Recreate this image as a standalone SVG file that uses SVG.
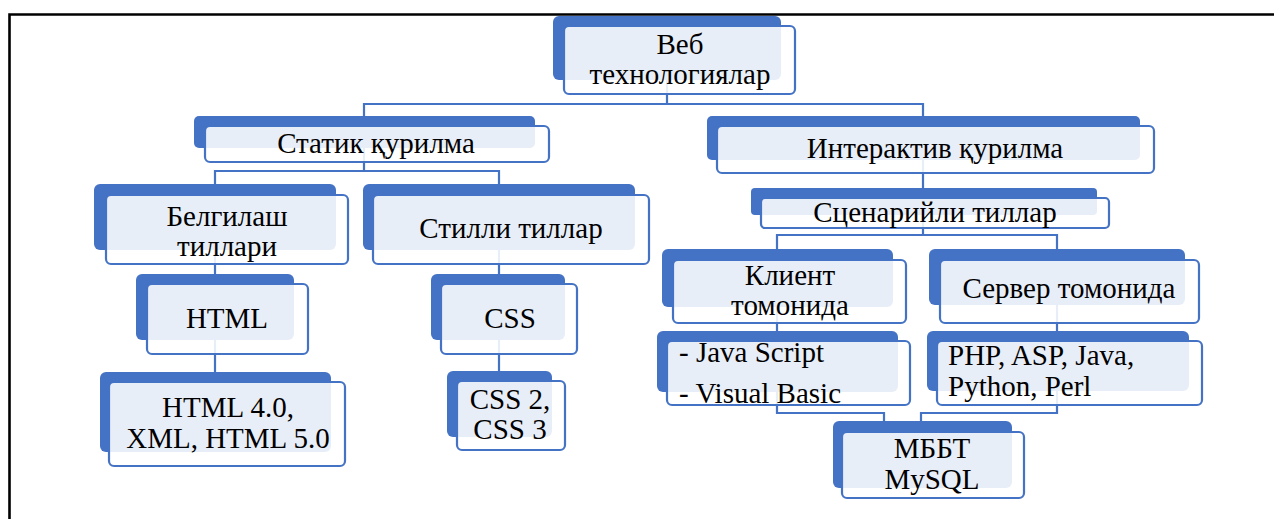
<svg xmlns="http://www.w3.org/2000/svg" width="1274" height="519" viewBox="0 0 1274 519">
<style>
.bk{fill:#4472C4}
.fr{fill:#ffffff;fill-opacity:0.88;stroke:#4472C4;stroke-width:2.2}
.cn{fill:none;stroke:#4472C4;stroke-width:2.2}
text{font-family:"Liberation Serif","Times New Roman",serif;font-size:29px;fill:#000}
.c{text-anchor:middle}
</style>
<rect x="0" y="0" width="1274" height="519" fill="#fff"/>
<path d="M9.5,519 V14.5 H1274" fill="none" stroke="#000" stroke-width="2.6"/>
<g id="connectors">
<path class="cn" d="M667,60 V104 M364,125 V104 H923 V125"/>
<path class="cn" d="M364,140 V171 M215,195 V171 H499 V195"/>
<path class="cn" d="M215,230 V290 M215,320 V385"/>
<path class="cn" d="M499,230 V290 M499,320 V385"/>
<path class="cn" d="M923,140 V200"/>
<path class="cn" d="M923,210 V235 M777,260 V235 H1057 V260"/>
<path class="cn" d="M777,290 V345 M1057,290 V345"/>
<path class="cn" d="M777,360 V413 H884 V432"/>
<path class="cn" d="M1057,360 V413 H921 V432"/>
</g>
<g id="n-veb">
<rect class="bk" x="553" y="16" width="228" height="64" rx="6"/>
<rect class="fr" x="564" y="26" width="231" height="68" rx="5"/>
<text class="c" x="680" y="54">Веб</text>
<text class="c" x="680" y="84">технологиялар</text>
</g>
<g id="n-statik">
<rect class="bk" x="194" y="116" width="341" height="32" rx="5"/>
<rect class="fr" x="205" y="126" width="344" height="36" rx="5"/>
<text class="c" x="376" y="153">Статик қурилма</text>
</g>
<g id="n-interaktiv">
<rect class="bk" x="707" y="116" width="433" height="44" rx="5"/>
<rect class="fr" x="717" y="126" width="437" height="47" rx="5"/>
<text class="c" x="935" y="158">Интерактив қурилма</text>
</g>
<g id="n-belgilash">
<rect class="bk" x="94" y="184" width="242" height="66" rx="6"/>
<rect class="fr" x="106" y="195" width="242" height="69" rx="5"/>
<text class="c" x="227" y="226">Белгилаш</text>
<text class="c" x="227" y="256">тиллари</text>
</g>
<g id="n-stilli">
<rect class="bk" x="363" y="184" width="272" height="66" rx="6"/>
<rect class="fr" x="373" y="195" width="276" height="69" rx="5"/>
<text class="c" x="511" y="238">Стилли тиллар</text>
</g>
<g id="n-html">
<rect class="bk" x="136" y="274" width="158" height="66" rx="6"/>
<rect class="fr" x="147" y="284" width="161" height="70" rx="5"/>
<text class="c" x="227" y="328">HTML</text>
</g>
<g id="n-css">
<rect class="bk" x="431" y="274" width="134" height="66" rx="6"/>
<rect class="fr" x="441" y="284" width="136" height="70" rx="5"/>
<text class="c" x="510" y="328">CSS</text>
</g>
<g id="n-html4">
<rect class="bk" x="100" y="372" width="231" height="80" rx="6"/>
<rect class="fr" x="109" y="382" width="236" height="84" rx="5"/>
<text class="c" x="228" y="417">HTML 4.0,</text>
<text class="c" x="228" y="448">XML, HTML 5.0</text>
</g>
<g id="n-css2">
<rect class="bk" x="447" y="371" width="105" height="66" rx="6"/>
<rect class="fr" x="457" y="381" width="108" height="69" rx="5"/>
<text class="c" x="510" y="409">CSS 2,</text>
<text class="c" x="510" y="439">CSS 3</text>
</g>
<g id="n-scenariy">
<rect class="bk" x="751" y="188" width="346" height="27" rx="4"/>
<rect class="fr" x="761" y="198" width="348" height="30" rx="4"/>
<text class="c" x="935" y="222">Сценарийли тиллар</text>
</g>
<g id="n-klient">
<rect class="bk" x="662" y="249" width="231" height="58" rx="6"/>
<rect class="fr" x="673" y="260" width="233" height="63" rx="5"/>
<text class="c" x="790" y="285">Клиент</text>
<text class="c" x="790" y="315">томонида</text>
</g>
<g id="n-server">
<rect class="bk" x="929" y="249" width="256" height="56" rx="6"/>
<rect class="fr" x="940" y="260" width="259" height="63" rx="5"/>
<text class="c" x="1069" y="298">Сервер томонида</text>
</g>
<g id="n-java">
<rect class="bk" x="657" y="331" width="241" height="61" rx="6"/>
<rect class="fr" x="667" y="341" width="243" height="64" rx="5"/>
<text x="679" y="362">- Java Script</text>
<text x="679" y="403">- Visual Basic</text>
</g>
<g id="n-php">
<rect class="bk" x="927" y="331" width="262" height="60" rx="6"/>
<rect class="fr" x="937" y="341" width="265" height="64" rx="5"/>
<text x="948" y="365">PHP, ASP, Java,</text>
<text x="948" y="396">Python, Perl</text>
</g>
<g id="n-mbbt">
<rect class="bk" x="833" y="421" width="179" height="67" rx="6"/>
<rect class="fr" x="842" y="432" width="182" height="66" rx="5"/>
<text class="c" x="932" y="458">МББТ</text>
<text class="c" x="932" y="489">MySQL</text>
</g>
</svg>
